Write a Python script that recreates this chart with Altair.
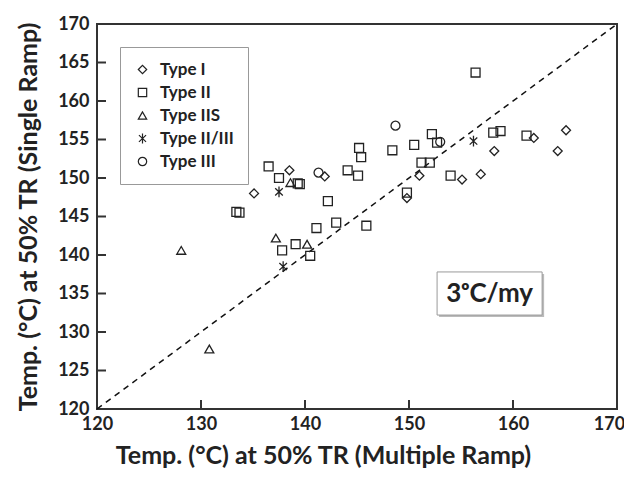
import altair as alt
import pandas as pd

types = ["Type I", "Type II", "Type IIS", "Type II/III", "Type III"]

# Type I (diamonds)
t1_x = [138.5, 135.1, 141.9, 151.0, 149.8, 155.1, 156.9, 158.2, 162.0, 164.3, 165.1]
t1_y = [151.0, 148.0, 150.2, 150.3, 147.4, 149.8, 150.5, 153.5, 155.2, 153.5, 156.2]
# Type II (squares)
t2_x = [136.5, 137.5, 139.3, 139.5, 142.2, 133.4, 133.7, 137.8, 139.1, 140.5, 141.1,
        143.0, 145.9, 144.1, 145.1, 145.2, 145.4, 148.4, 150.5, 152.2, 152.7, 151.2,
        152.0, 149.8, 154.0, 156.4, 158.1, 158.8, 161.3]
t2_y = [151.5, 150.0, 149.3, 149.2, 147.0, 145.6, 145.5, 140.6, 141.4, 139.9, 143.5,
        144.2, 143.8, 151.0, 150.3, 153.9, 152.7, 153.6, 154.3, 155.7, 154.6, 152.0,
        152.0, 148.1, 150.3, 163.7, 155.9, 156.1, 155.5]
# Type IIS (triangles)
t3_x = [128.1, 130.8, 137.2, 140.2, 138.6]
t3_y = [140.6, 127.8, 142.2, 141.4, 149.4]
# Type II/III (asterisks)
t4_x = [137.5, 137.9, 156.2]
t4_y = [148.2, 138.5, 154.8]
# Type III (circles)
t5_x = [141.3, 148.7, 153.0]
t5_y = [150.7, 156.8, 154.7]

x_ticks = [120, 130, 140, 150, 160, 170]
y_ticks = [120, 125, 130, 135, 140, 145, 150, 155, 160, 165, 170]
x_inner = [130, 140, 150, 160]
y_inner = [125, 130, 135, 140, 145, 150, 155, 160, 165]
diag = [120, 170]

note_text = "3ᵒC/my"
note_box = {"x": 152.7, "x2": 162.8, "y": 132.2, "y2": 137.8, "tx": 157.75, "ty": 134.9}

rows = []
for name, xs, ys in zip(types, [t1_x, t2_x, t3_x, t4_x, t5_x], [t1_y, t2_y, t3_y, t4_y, t5_y]):
    for a, b in zip(xs, ys):
        rows.append({"type": name, "multi": a, "single": b})
df = pd.DataFrame(rows)

W, H = 520, 385
FONT = "Lato"
xscale = alt.Scale(domain=[120, 170], nice=False, zero=False)
yscale = alt.Scale(domain=[120, 170], nice=False, zero=False)

x_axis = alt.Axis(title="Temp. (°C) at 50% TR (Multiple Ramp)", values=x_ticks, format="d",
                  labelPadding=6, titlePadding=10, grid=False, domain=False, ticks=False,
                  labelFlush=False, labelOverlap=False, titleX=226, titleAlign="center",
                  labelOffset={"condition": {"test": "datum.value == 170", "value": -8}, "value": 0})
y_axis = alt.Axis(title="Temp. (°C) at 50% TR (Single  Ramp)", values=y_ticks, format="d",
                  labelPadding=8, titlePadding=16, grid=False, domain=False, ticks=False,
                  labelFlush=False, labelOverlap=False)


def X(f):
    return alt.X(f, scale=xscale, axis=x_axis)


def Y(f):
    return alt.Y(f, scale=yscale, axis=y_axis)


asterisk = "M0,-1.2L0,1.2M-0.85,-0.8L0.85,0.8M-0.85,0.8L0.85,-0.8"
shapes = ["diamond", "square", "triangle-up", asterisk, "circle"]

line_df = pd.DataFrame({"a": diag, "b": diag})
diag_line = alt.Chart(line_df).mark_line(color="#111", strokeWidth=1.5, strokeDash=[6, 5]).encode(
    x=X("a:Q"), y=Y("b:Q"))

points = alt.Chart(df).mark_point(filled=False, color="#222", strokeWidth=1.3, size=80, opacity=1).encode(
    x=X("multi:Q"),
    y=Y("single:Q"),
    shape=alt.Shape("type:N", scale=alt.Scale(domain=types, range=shapes),
                    legend=alt.Legend(title=None, orient="none", legendX=23, legendY=23,
                                      fillColor="white", strokeColor="#999", padding=14,
                                      rowPadding=5, symbolSize=70, symbolStrokeWidth=1.2,
                                      symbolStrokeColor="#222", symbolFillColor="white",
                                      labelFont=FONT, labelFontSize=17, labelFontWeight="bold",
                                      labelColor="#222", labelOffset=9)),
)

xt = alt.Chart(pd.DataFrame({"v": x_inner})).mark_rule(color="#333", strokeWidth=2).encode(
    x=X("v:Q"), y=alt.value(H), y2=alt.value(H - 9))
yt = alt.Chart(pd.DataFrame({"v": y_inner})).mark_rule(color="#333", strokeWidth=2).encode(
    y=Y("v:Q"), x=alt.value(0), x2=alt.value(9))

note_df = pd.DataFrame([note_box])
shadow = alt.Chart(note_df).mark_rect(fill="#bbb", xOffset=2, yOffset=2, x2Offset=2, y2Offset=2).encode(
    x=X("x:Q"), x2="x2:Q", y=Y("y:Q"), y2="y2:Q")
box = alt.Chart(note_df).mark_rect(fill="white", stroke="#999", strokeWidth=1).encode(
    x=X("x:Q"), x2="x2:Q", y=Y("y:Q"), y2="y2:Q")
txt = alt.Chart(note_df).mark_text(text=note_text, font=FONT, fontSize=26, fontWeight="bold",
                                   color="#222", align="center", baseline="middle").encode(
    x=X("tx:Q"), y=Y("ty:Q"))

chart = alt.layer(diag_line, points, xt, yt, shadow, box, txt).properties(
    width=W, height=H,
    autosize=alt.AutoSizeParams(type="none"),
    padding={"left": 89, "top": 16, "right": 7, "bottom": 62},
).configure_view(stroke="#333", strokeWidth=2).configure_axis(
    labelFont=FONT, labelFontSize=18, labelFontWeight="bold", labelColor="#222",
    titleFont=FONT, titleFontSize=25, titleFontWeight="bold", titleColor="#222",
)

chart.save("out.html", embed_options={"renderer": "svg", "actions": False})
